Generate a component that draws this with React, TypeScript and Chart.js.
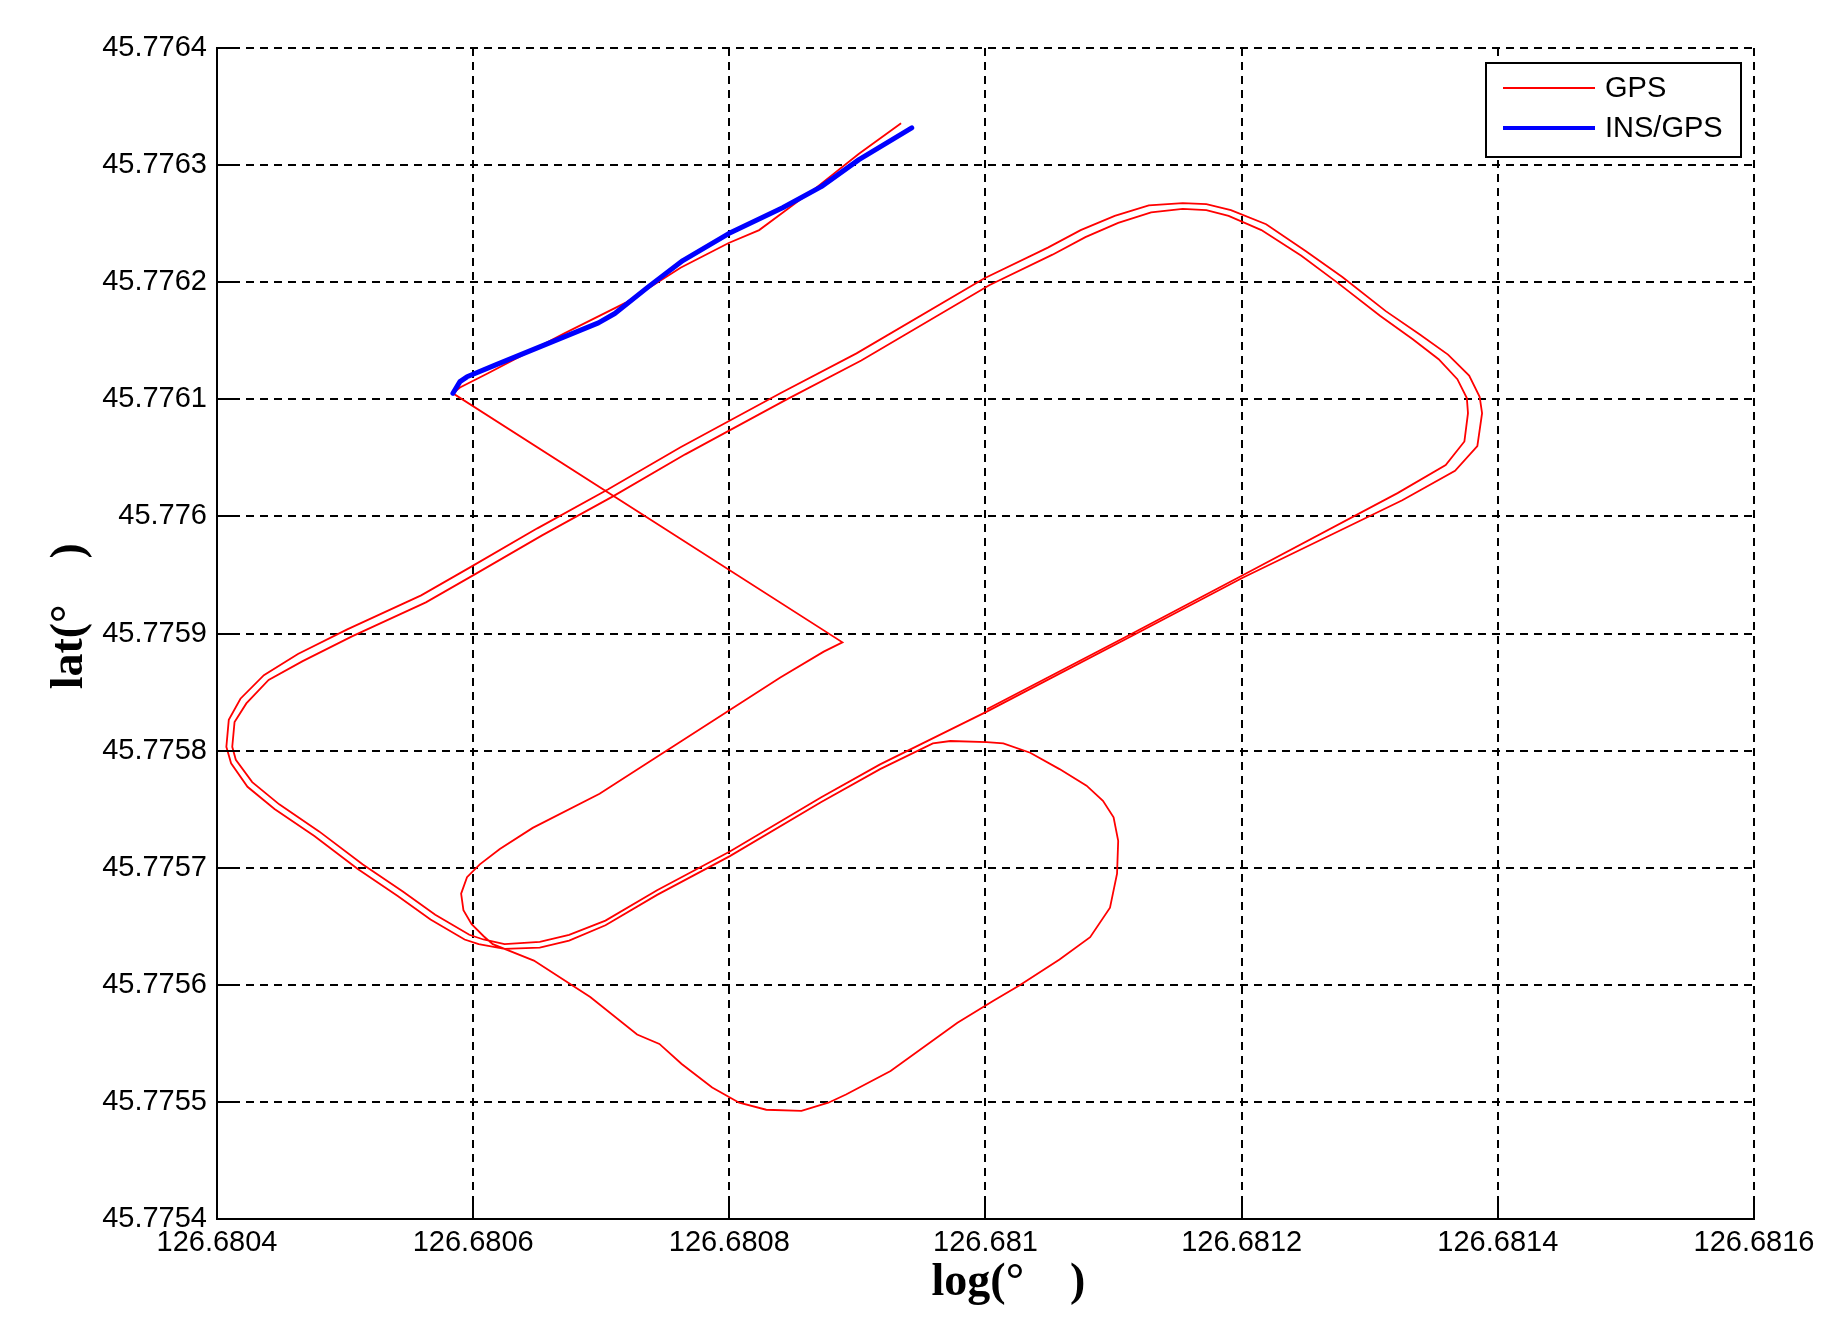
import React, { useEffect, useRef } from "react";
import { Chart, registerables } from "chart.js";

Chart.register(...registerables);

// ---- GPS track (longitude / latitude, degrees) ----
const gpsLon = [
  // top leg
  126.6809341, 126.6809012, 126.6808654, 126.6808233, 126.6807995, 126.6807619, 126.6807188, 126.6806712, 126.6806116, 126.6805897, 126.6805842,
  // zig, small loop, bottom, right loop
  126.6808883, 126.6808737, 126.6808398, 126.6806987, 126.6806465, 126.6806208, 126.6806052, 126.6805952, 126.6805906, 126.6805924, 126.6805988,
  126.680608, 126.6806153, 126.6806474, 126.6806914, 126.680728, 126.6807454, 126.6807628, 126.6807866, 126.6808077, 126.6808288, 126.6808563,
  126.6808773, 126.6808911, 126.6809259, 126.6809781, 126.6810065, 126.6810267, 126.6810578, 126.6810817, 126.6810972, 126.6811027, 126.6811036,
  126.6811, 126.6810917, 126.6810789, 126.6810578, 126.6810349, 126.6810139, 126.681001, 126.6809726, 126.6809589,
  // lap 1
  126.6809177, 126.6808718, 126.6808004, 126.6807436, 126.6807033, 126.6806749, 126.680652, 126.6806245, 126.6806043, 126.6805933, 126.6805667,
  126.6805411, 126.6805099, 126.680476, 126.6804449, 126.6804238, 126.680411, 126.6804073, 126.6804092, 126.6804183, 126.6804366, 126.6804632,
  126.6805017, 126.6805594, 126.6805979, 126.6806501, 126.6807051, 126.6807619, 126.6808398, 126.6808993, 126.6809992, 126.6810487, 126.6810743,
  126.6811009, 126.6811275, 126.681154, 126.6811724, 126.6811916, 126.6812191, 126.6812502, 126.6812786, 126.6813125, 126.6813391, 126.6813611,
  126.6813776, 126.6813858, 126.6813877, 126.681384, 126.6813666, 126.6813254,
  // lap 2
  126.6812008, 126.6811101, 126.681001, 126.6809177, 126.6808718, 126.6808004, 126.6807436, 126.6807033, 126.6806749, 126.680652, 126.6806245,
  126.680608, 126.680597, 126.6805704, 126.6805448, 126.6805136, 126.6804797, 126.6804486, 126.6804275, 126.6804147, 126.6804119, 126.6804137,
  126.6804229, 126.6804403, 126.6804669, 126.6805054, 126.6805631, 126.6806016, 126.6806538, 126.6807088, 126.6807656, 126.6808434, 126.680903,
  126.6810029, 126.6810523, 126.681078, 126.6811036, 126.6811293, 126.681154, 126.6811724, 126.6811898, 126.6812154, 126.6812466, 126.681275,
  126.681308, 126.6813336, 126.6813538, 126.6813684, 126.6813758, 126.6813767, 126.6813739, 126.6813593, 126.6813217,
  // final
  126.6812008, 126.6811101, 126.681001,
];

const gpsLat = [
  45.7763358, 45.7763097, 45.7762786, 45.7762445, 45.7762335, 45.7762124, 45.7761823, 45.7761563, 45.7761222, 45.7761101, 45.7761051,
  45.7758925, 45.7758845, 45.7758624, 45.7757631, 45.775734, 45.7757159, 45.7757029, 45.7756919, 45.7756778, 45.7756638, 45.7756518,
  45.7756417, 45.7756347, 45.7756207, 45.7755896, 45.7755575, 45.7755495, 45.7755324, 45.7755123, 45.7754993, 45.7754933, 45.7754923,
  45.7754993, 45.7755063, 45.7755264, 45.7755675, 45.7755866, 45.7755996, 45.7756217, 45.7756407, 45.7756658, 45.7756949, 45.775723,
  45.775743, 45.7757571, 45.7757701, 45.7757842, 45.7757982, 45.7758062, 45.7758072, 45.7758082, 45.7758062,
  // lap 1
  45.7757842, 45.7757561, 45.7757099, 45.7756768, 45.7756508, 45.7756377, 45.7756317, 45.7756307, 45.7756347, 45.7756387, 45.7756558,
  45.7756758, 45.7756989, 45.775727, 45.7757501, 45.7757691, 45.7757892, 45.7758032, 45.7758263, 45.7758443, 45.7758644, 45.7758825,
  45.7759035, 45.7759326, 45.7759567, 45.7759898, 45.7760229, 45.776059, 45.7761051, 45.7761392, 45.7762034, 45.7762295, 45.7762445,
  45.7762566, 45.7762656, 45.7762676, 45.7762666, 45.7762616, 45.7762495, 45.7762265, 45.7762044, 45.7761753, 45.7761553, 45.7761382,
  45.7761202, 45.7761021, 45.7760881, 45.77606, 45.7760389, 45.7760138,
  // lap 2
  45.7759476, 45.7758955, 45.7758333, 45.7757882, 45.7757601, 45.7757139, 45.7756808, 45.7756548, 45.7756427, 45.7756367, 45.7756347,
  45.7756387, 45.7756427, 45.7756598, 45.7756798, 45.7757029, 45.775731, 45.7757541, 45.7757731, 45.7757922, 45.7758032, 45.7758243,
  45.7758403, 45.7758604, 45.7758764, 45.7758975, 45.7759266, 45.7759507, 45.7759838, 45.7760169, 45.776053, 45.7760991, 45.7761332,
  45.7761974, 45.7762235, 45.7762385, 45.7762506, 45.7762596, 45.7762626, 45.7762616, 45.7762566, 45.7762445, 45.7762225, 45.7761994,
  45.7761713, 45.7761513, 45.7761342, 45.7761172, 45.7761011, 45.7760881, 45.776064, 45.7760439, 45.7760199,
  // final
  45.7759497, 45.7758975, 45.7758353,
];

// ---- INS/GPS track ----
const insLon = [
  126.6805842, 126.6805897, 126.6805952, 126.6806171, 126.680662, 126.6806978, 126.6807106, 126.6807372, 126.6807637, 126.6807995,
  126.6808416, 126.6808718, 126.6809012, 126.6809424,
];
const insLat = [
  45.7761051, 45.7761151, 45.7761192, 45.7761292, 45.7761492, 45.7761653, 45.7761733, 45.7761964, 45.7762185, 45.7762415,
  45.7762636, 45.7762816, 45.7763047, 45.7763318,
];

// ---- axes ----
const xTickValues = [126.6804, 126.6806, 126.6808, 126.681, 126.6812, 126.6814, 126.6816];
const xTickLabels = ["126.6804", "126.6806", "126.6808", "126.681", "126.6812", "126.6814", "126.6816"];
const yTickValues = [45.7754, 45.7755, 45.7756, 45.7757, 45.7758, 45.7759, 45.776, 45.7761, 45.7762, 45.7763, 45.7764];
const yTickLabels = ["45.7754", "45.7755", "45.7756", "45.7757", "45.7758", "45.7759", "45.776", "45.7761", "45.7762", "45.7763", "45.7764"];
const xTitle = "    log(°    )";
const yTitle = "   lat(°    )";
const seriesNames = ["GPS", "INS/GPS"];
const seriesColors = ["#ff0000", "#0000ff"];

const TICK_FONT = "'Liberation Sans', Arial, sans-serif";
const TITLE_FONT = "'Liberation Serif', 'Times New Roman', serif";

const overlayPlugin = {
  id: "overlay",
  afterDraw(chart: any) {
    const { ctx, chartArea: a, scales } = chart;
    ctx.save();
    ctx.setLineDash([]);
    ctx.strokeStyle = "#000";
    ctx.lineWidth = 2;
    yTickValues.forEach((v) => {
      const y = Math.round(scales.y.getPixelForValue(v));
      ctx.beginPath();
      ctx.moveTo(a.left, y);
      ctx.lineTo(a.left + 18, y);
      ctx.stroke();
    });
    xTickValues.forEach((v) => {
      const x = Math.round(scales.x.getPixelForValue(v));
      ctx.beginPath();
      ctx.moveTo(x, a.bottom);
      ctx.lineTo(x, a.bottom - 18);
      ctx.stroke();
    });
    // legend box
    const bw = 255;
    const bh = 94;
    const bx = a.right - 13 - bw;
    const by = a.top + 15;
    ctx.fillStyle = "#fff";
    ctx.fillRect(bx, by, bw, bh);
    ctx.lineWidth = 2;
    ctx.strokeStyle = "#000";
    ctx.strokeRect(bx, by, bw, bh);
    const rows = [by + 25, by + 65];
    const widths = [2, 4];
    ctx.font = `29px ${TICK_FONT}`;
    ctx.textBaseline = "middle";
    ctx.textAlign = "left";
    rows.forEach((ry, i) => {
      ctx.strokeStyle = seriesColors[i];
      ctx.lineWidth = widths[i];
      ctx.beginPath();
      ctx.moveTo(bx + 17, ry);
      ctx.lineTo(bx + 109, ry);
      ctx.stroke();
      ctx.fillStyle = "#000";
      ctx.fillText(seriesNames[i], bx + 119, ry + 1);
    });
    ctx.restore();
  },
};

export default function App() {
  const ref = useRef<HTMLCanvasElement>(null);
  useEffect(() => {
    const canvas = ref.current;
    if (!canvas) return;
    const gpsData = gpsLon.map((x, i) => ({ x, y: gpsLat[i] }));
    const insData = insLon.map((x, i) => ({ x, y: insLat[i] }));
    const chart = new Chart(canvas, {
      type: "scatter",
      data: {
        datasets: [
          {
            label: seriesNames[1],
            data: insData,
            showLine: true,
            borderColor: seriesColors[1],
            backgroundColor: seriesColors[1],
            borderWidth: 5,
            pointRadius: 0,
            borderCapStyle: "round",
            borderJoinStyle: "round",
            order: 0,
          },
          {
            label: seriesNames[0],
            data: gpsData,
            showLine: true,
            borderColor: seriesColors[0],
            backgroundColor: seriesColors[0],
            borderWidth: 1.8,
            pointRadius: 0,
            order: 1,
          },
        ],
      },
      options: {
        animation: false,
        responsive: false,
        devicePixelRatio: 1,
        layout: { padding: { left: 0, top: 48, right: 86, bottom: 0 } },
        plugins: { legend: { display: false }, tooltip: { enabled: false } },
        scales: {
          x: {
            type: "linear",
            min: 126.6804,
            max: 126.6816,
            afterBuildTicks: (s: any) => {
              s.ticks = xTickValues.map((v) => ({ value: v }));
            },
            afterFit: (s: any) => {
              s.height = 120;
            },
            ticks: {
              autoSkip: false,
              maxRotation: 0,
              minRotation: 0,
              padding: 7,
              color: "#000",
              font: { family: TICK_FONT, size: 29 },
              callback: (_v: any, i: number) => xTickLabels[i],
            },
            grid: { color: "#000", lineWidth: 2, drawTicks: false },
            border: { display: true, color: "#000", width: 2, dash: [8, 6] },
            title: {
              display: true,
              text: xTitle,
              color: "#000",
              font: { family: TITLE_FONT, size: 46, weight: "bold" },
              padding: { top: 0, bottom: 28 },
            },
          },
          y: {
            type: "linear",
            min: 45.7754,
            max: 45.7764,
            afterBuildTicks: (s: any) => {
              s.ticks = yTickValues.map((v) => ({ value: v }));
            },
            afterFit: (s: any) => {
              s.width = 217;
            },
            ticks: {
              autoSkip: false,
              padding: 10,
              color: "#000",
              font: { family: TICK_FONT, size: 29 },
              callback: (_v: any, i: number) => yTickLabels[i],
            },
            grid: { color: "#000", lineWidth: 2, drawTicks: false },
            border: { display: true, color: "#000", width: 2, dash: [8, 6] },
            title: {
              display: true,
              text: yTitle,
              color: "#000",
              font: { family: TITLE_FONT, size: 46, weight: "bold" },
              padding: { top: 43, bottom: 0 },
            },
          },
        },
      } as any,
      plugins: [overlayPlugin],
    });
    return () => chart.destroy();
  }, []);
  return (
    <div style={{ position: "fixed", left: 0, top: 0, width: 1840, height: 1339, background: "#fff" }}>
      <canvas ref={ref} width={1840} height={1339} style={{ width: 1840, height: 1339, display: "block" }} />
    </div>
  );
}
